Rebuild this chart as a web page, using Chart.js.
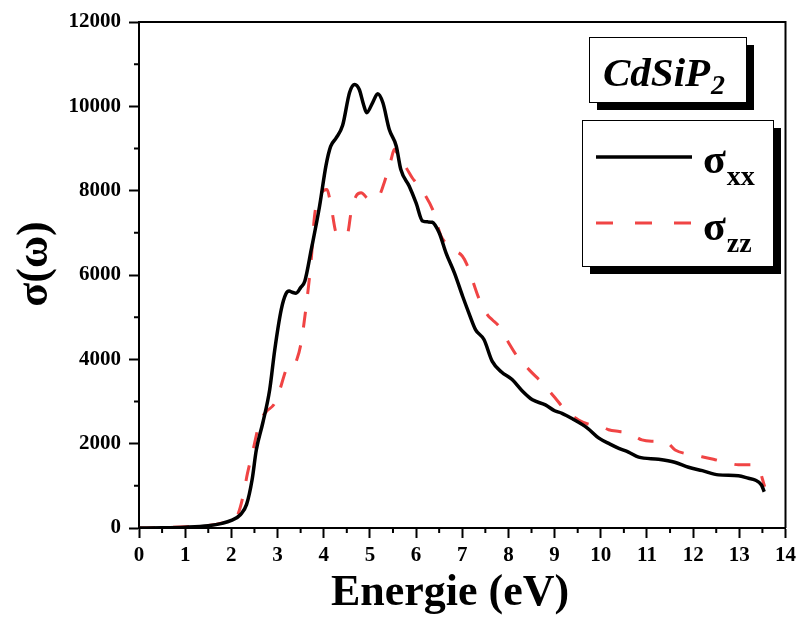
<!DOCTYPE html>
<html>
<head>
<meta charset="utf-8">
<script src="https://cdn.jsdelivr.net/npm/chart.js@4/dist/chart.umd.min.js"></script>
<style>
  html, body { margin: 0; padding: 0; background: #fff; }
  #wrap { width: 801px; height: 619px; }
</style>
</head>
<body>
<div id="wrap"><canvas id="c" width="801" height="619"></canvas></div>
<script>
// Optical conductivity of CdSiP2 versus photon energy
const energyXX = [0, 0.5, 1.0, 1.5, 1.8, 2.0, 2.2, 2.33, 2.45, 2.54, 2.68, 2.83, 2.94, 3.08, 3.18, 3.25, 3.32, 3.40, 3.50, 3.59, 3.73, 3.91, 4.05, 4.15, 4.27, 4.41, 4.56, 4.67, 4.77, 4.86, 4.93, 5.06, 5.17, 5.28, 5.42, 5.57, 5.67, 5.85, 6.0, 6.14, 6.25, 6.35, 6.5, 6.65, 6.83, 7.01, 7.15, 7.29, 7.47, 7.65, 7.85, 8.08, 8.3, 8.52, 8.8, 9.0, 9.16, 9.4, 9.71, 9.96, 10.2, 10.39, 10.6, 10.82, 11.25, 11.6, 11.9, 12.2, 12.55, 12.98, 13.2, 13.34, 13.48, 13.54];
const sigmaXX = [0, 5, 20, 55, 110, 180, 320, 560, 1150, 1850, 2490, 3280, 4230, 5180, 5550, 5620, 5590, 5570, 5700, 5850, 6600, 7630, 8600, 9050, 9250, 9550, 10330, 10520, 10400, 10050, 9850, 10090, 10300, 10090, 9450, 9060, 8500, 8110, 7710, 7280, 7260, 7250, 7000, 6520, 6050, 5490, 5080, 4700, 4470, 3950, 3700, 3520, 3250, 3040, 2920, 2780, 2720, 2580, 2370, 2130, 1990, 1890, 1800, 1680, 1630, 1560, 1440, 1360, 1260, 1240, 1180, 1140, 1020, 860];

const energyZZ = [0, 0.5, 1.0, 1.5, 1.8, 2.0, 2.15, 2.25, 2.35, 2.47, 2.61, 2.75, 2.94, 3.05, 3.19, 3.26, 3.33, 3.42, 3.51, 3.62, 3.73, 3.80, 3.95, 4.07, 4.16, 4.27, 4.41, 4.52, 4.59, 4.70, 4.81, 4.99, 5.17, 5.31, 5.46, 5.53, 5.64, 5.78, 5.92, 6.0, 6.21, 6.36, 6.54, 6.65, 6.8, 7.0, 7.1, 7.37, 7.55, 7.65, 7.80, 8.0, 8.19, 8.45, 8.73, 9.0, 9.23, 9.52, 9.8, 10.03, 10.17, 10.4, 10.6, 10.89, 11.1, 11.40, 11.61, 11.9, 12.19, 12.44, 12.7, 12.98, 13.23, 13.4, 13.55];
const sigmaZZ = [0, 10, 30, 60, 120, 200, 350, 740, 1300, 1850, 2500, 2750, 2960, 3280, 3760, 3840, 3830, 4000, 4390, 5260, 6370, 7390, 7950, 8030, 7630, 7000, 6920, 7000, 7470, 7870, 7950, 7790, 7830, 8190, 8740, 8980, 8740, 8550, 8300, 8190, 7870, 7550, 6920, 6750, 6600, 6450, 6250, 5420, 5050, 4940, 4780, 4400, 4070, 3750, 3440, 3100, 2800, 2560, 2440, 2400, 2330, 2290, 2260, 2090, 2060, 2050, 1850, 1750, 1690, 1630, 1560, 1500, 1500, 1450, 980];

const xTickLabels = ['0','1','2','3','4','5','6','7','8','9','10','11','12','13','14'];
const yTickLabels = ['0','2000','4000','6000','8000','10000','12000'];
const seriesNames = ['σxx', 'σzz'];
const compound = 'CdSiP';
const compoundIndex = '2';
const xTitle = 'Energie (eV)';
const yTitle = 'σ(ω)';

const RED = '#f04444';
const toPoints = (xs, ys) => xs.map((x, i) => ({ x: x, y: ys[i] }));

// Minor tick marks, frame, axis titles and the two annotation boxes
const decorations = {
  id: 'decorations',
  afterDraw(chart) {
    const ctx = chart.ctx;
    const a = chart.chartArea;
    const xs = chart.scales.x, ys = chart.scales.y;
    ctx.save();
    // frame: top and right edges
    ctx.strokeStyle = '#000';
    ctx.lineWidth = 2;
    ctx.beginPath();
    ctx.moveTo(a.left, a.top);
    ctx.lineTo(a.right, a.top);
    ctx.lineTo(a.right, a.bottom);
    ctx.stroke();
    // minor ticks
    ctx.beginPath();
    for (let v = 0.5; v < 14; v += 1) {
      const px = xs.getPixelForValue(v);
      ctx.moveTo(px, a.bottom);
      ctx.lineTo(px, a.bottom + 5);
    }
    for (let v = 1000; v < 12000; v += 2000) {
      const py = ys.getPixelForValue(v);
      ctx.moveTo(a.left, py);
      ctx.lineTo(a.left - 5, py);
    }
    ctx.stroke();

    // axis titles
    ctx.fillStyle = '#000';
    ctx.textAlign = 'center';
    ctx.textBaseline = 'alphabetic';
    ctx.font = 'bold 44px "Liberation Serif"';
    ctx.fillText(xTitle, 450, 605);
    ctx.save();
    ctx.translate(36, 264);
    ctx.rotate(-Math.PI / 2);
    ctx.textBaseline = 'middle';
    ctx.font = 'bold 44px "Liberation Serif"';
    ctx.fillText(yTitle, 0, 0);
    ctx.restore();

    // boxed compound name with drop shadow
    const drawBox = (x, y, w, h, off) => {
      ctx.fillStyle = '#000';
      ctx.fillRect(x + off, y + off, w, h);
      ctx.fillStyle = '#fff';
      ctx.fillRect(x, y, w, h);
      ctx.lineWidth = 1;
      ctx.strokeStyle = '#000';
      ctx.strokeRect(x + 0.5, y + 0.5, w, h);
    };
    drawBox(589, 37, 157, 65, 8);
    ctx.fillStyle = '#000';
    ctx.textBaseline = 'alphabetic';
    ctx.textAlign = 'left';
    ctx.font = 'italic bold 41px "Liberation Serif"';
    ctx.fillText(compound, 603, 86);
    const cw = ctx.measureText(compound).width;
    ctx.font = 'italic bold 28px "Liberation Serif"';
    ctx.fillText(compoundIndex, 603 + cw + 1, 94);

    // legend
    drawBox(582, 120, 191, 146, 8);
    ctx.lineWidth = 3.5;
    ctx.strokeStyle = '#000';
    ctx.setLineDash([]);
    ctx.beginPath();
    ctx.moveTo(596, 157); ctx.lineTo(692, 157);
    ctx.stroke();
    ctx.lineWidth = 3;
    ctx.strokeStyle = RED;
    ctx.setLineDash([17, 22]);
    ctx.beginPath();
    ctx.moveTo(596, 223); ctx.lineTo(692, 223);
    ctx.stroke();
    ctx.setLineDash([]);
    ctx.fillStyle = '#000';
    const label = (name, y) => {
      ctx.font = 'bold 42px "Liberation Serif"';
      ctx.fillText(name[0], 703, y);
      const w = ctx.measureText(name[0]).width;
      ctx.font = 'bold 28px "Liberation Serif"';
      ctx.fillText(name.slice(1), 703 + w + 1, y + 12);
    };
    label(seriesNames[0], 173);
    label(seriesNames[1], 240);
    ctx.restore();
  }
};

const tickFont = { family: '"Liberation Serif"', weight: 'bold', size: 21 };

new Chart(document.getElementById('c'), {
  type: 'line',
  data: {
    datasets: [
      {
        label: seriesNames[0],
        data: toPoints(energyXX, sigmaXX),
        borderColor: '#000',
        borderWidth: 3.5,
        pointRadius: 0,
        cubicInterpolationMode: 'monotone',
        fill: false
      },
      {
        label: seriesNames[1],
        data: toPoints(energyZZ, sigmaZZ),
        borderColor: RED,
        borderWidth: 3,
        borderDash: [16, 18],
        pointRadius: 0,
        cubicInterpolationMode: 'monotone',
        fill: false
      }
    ]
  },
  options: {
    responsive: false,
    animation: false,
    layout: { padding: { top: 22, right: 14, left: 0, bottom: 0 } },
    plugins: { legend: { display: false }, tooltip: { enabled: false } },
    scales: {
      x: {
        type: 'linear',
        min: 0,
        max: 14,
        afterFit: s => { s.height = 91; },
        afterBuildTicks: s => { s.ticks = xTickLabels.map(t => ({ value: Number(t) })); },
        ticks: {
          color: '#000',
          font: tickFont,
          padding: 5,
          maxRotation: 0,
          autoSkip: false,
          callback: v => xTickLabels[v]
        },
        grid: { drawOnChartArea: false, drawTicks: true, tickLength: 10, tickWidth: 2, tickColor: '#000' },
        border: { display: true, color: '#000', width: 2 }
      },
      y: {
        type: 'linear',
        min: 0,
        max: 12000,
        afterFit: s => { s.width = 139; },
        afterBuildTicks: s => { s.ticks = yTickLabels.map(t => ({ value: Number(t) })); },
        ticks: {
          color: '#000',
          font: tickFont,
          padding: 8,
          autoSkip: false,
          callback: v => String(v)
        },
        grid: { drawOnChartArea: false, drawTicks: true, tickLength: 10, tickWidth: 2, tickColor: '#000' },
        border: { display: true, color: '#000', width: 2 }
      }
    }
  },
  plugins: [decorations]
});
</script>
</body>
</html>
